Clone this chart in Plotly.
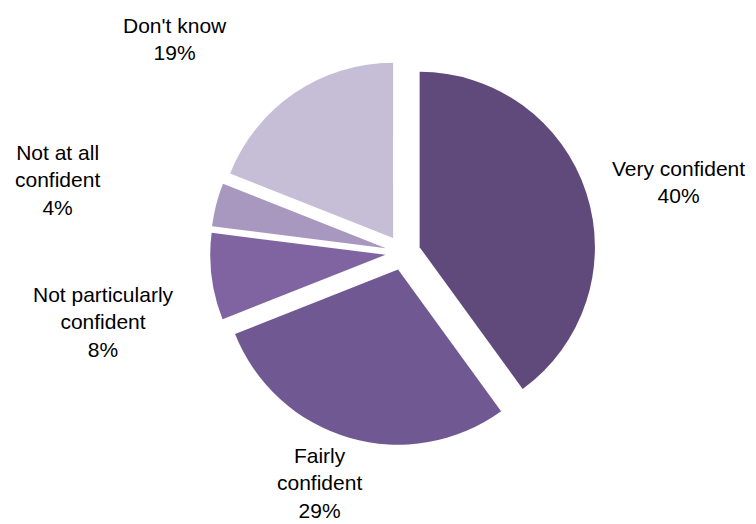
import plotly.graph_objects as go

# Survey responses: confidence level
categories = ["Very confident", "Fairly confident", "Not particularly confident",
              "Not at all confident", "Don't know"]
label_text = ["Very confident", "Fairly<br>confident", "Not particularly<br>confident",
              "Not at all<br>confident", "Don't know"]
values = [40, 29, 8, 4, 19]
colors = ["#604A7B", "#705992", "#8064A2", "#A897BF", "#C6BED6"]

# Label anchor positions (paper fractions) for each category
label_x = [0.897, 0.422, 0.137, 0.076, 0.232]
label_y = [0.652, 0.078, 0.385, 0.657, 0.925]

W, H = 756, 524

fig = go.Figure(
    go.Pie(
        labels=categories,
        values=values,
        marker=dict(colors=colors, line=dict(width=0)),
        sort=False,
        direction="clockwise",
        rotation=0,
        pull=[0.1] * len(values),
        textinfo="none",
        hoverinfo="label+percent",
        showlegend=False,
        domain=dict(x=[0.276, 0.790], y=[0.150, 0.886]),
    )
)

for txt, v, x, y in zip(label_text, values, label_x, label_y):
    fig.add_annotation(
        x=x, y=y, xref="paper", yref="paper",
        text=f"{txt}<br>{v}%",
        showarrow=False,
        align="center",
        xanchor="center", yanchor="middle",
        font=dict(family="Liberation Sans, Arial, sans-serif", size=21, color="#000000"),
    )

fig.update_layout(
    width=W, height=H,
    margin=dict(l=0, r=0, t=0, b=0),
    paper_bgcolor="white",
    plot_bgcolor="white",
)

fig.write_html("out.html")
